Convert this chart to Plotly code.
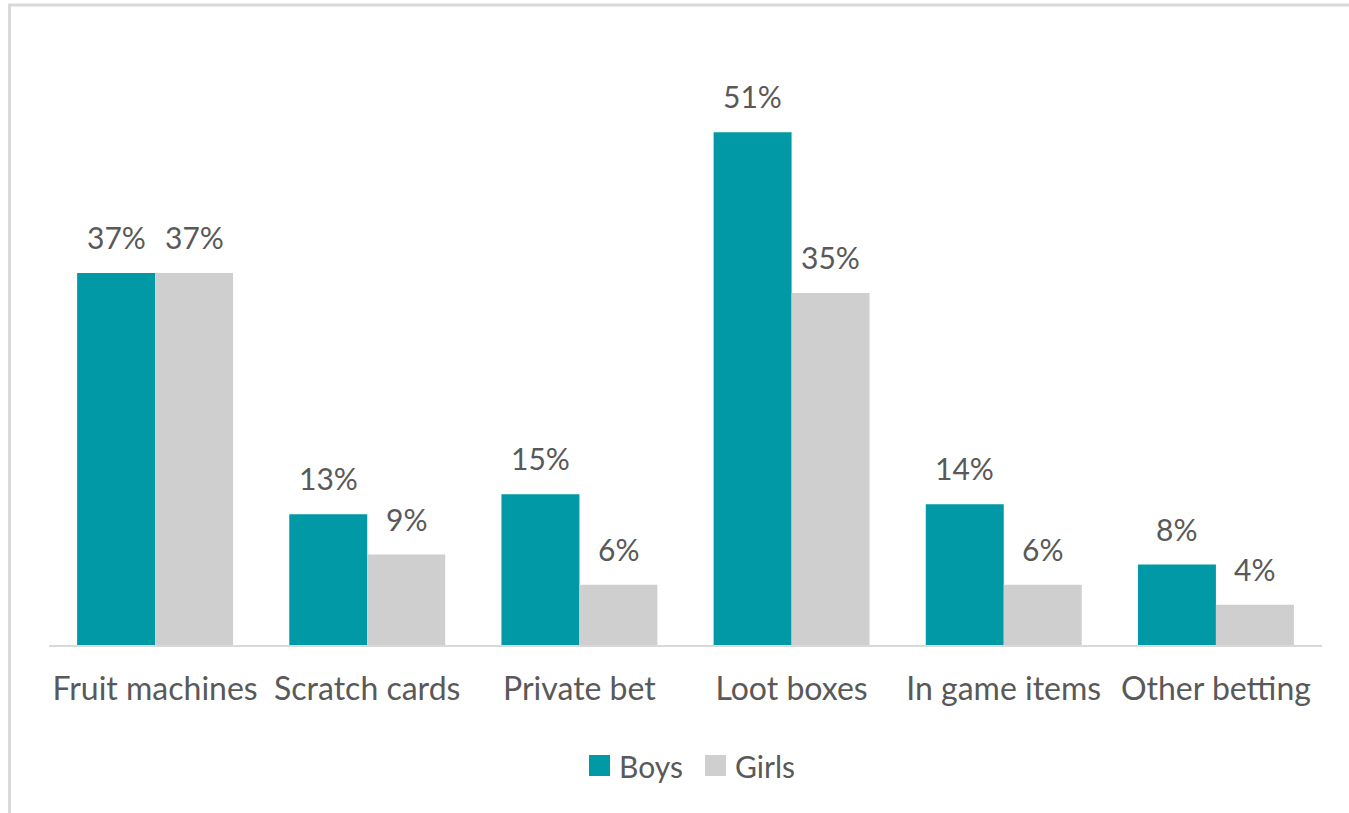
import plotly.graph_objects as go

categories = ["Fruit machines", "Scratch cards", "Private bet", "Loot boxes", "In game items", "Other betting"]
boys = [37, 13, 15, 51, 14, 8]
girls = [37, 9, 6, 35, 6, 4]
series_names = ["Boys", "Girls"]

BOYS_COLOR = "#0099A5"
GIRLS_COLOR = "#D0CFD0"
TEXT_COLOR = "#595959"
FONT = "Lato, Carlito, Calibri, sans-serif"
FS = 30

# plot area in pixels (used to place the hand-drawn legend)
L, R, T, B = 49, 27, 85, 168
W, H = 1349, 813
PW, PH = W - L - R, H - T - B


def px_x(px):
    return (px - L) / PW


def px_y(py):
    return (H - B - py) / PH


fig = go.Figure()
fig.add_trace(go.Bar(name="Boys", x=categories, y=boys, marker_color=BOYS_COLOR,
                     marker_line_width=0, showlegend=False))
fig.add_trace(go.Bar(name="Girls", x=categories, y=girls, marker_color=GIRLS_COLOR,
                     marker_line_width=0, showlegend=False))

# value labels above each bar
annotations = []
for series, shift in ((boys, -39), (girls, 39)):
    for cat, v in zip(categories, series):
        annotations.append(dict(
            x=cat, y=v, xref="x", yref="y", text=f"{v}%", showarrow=False,
            xshift=shift, yshift=16, yanchor="bottom",
            font=dict(family=FONT, size=FS, color=TEXT_COLOR)))

# legend: square swatches with labels, centred under the plot
shapes = [dict(type="rect", xref="paper", yref="paper",
               x0=-0.031, x1=1.2, y0=-1, y1=1.143,
               line=dict(color="#D9D9D9", width=3), layer="below")]
legend_items = [(series_names[0], BOYS_COLOR, 589, 617), (series_names[1], GIRLS_COLOR, 705, 733)]
for name, color, sx, tx in legend_items:
    shapes.append(dict(type="rect", xref="paper", yref="paper",
                       x0=px_x(sx), x1=px_x(sx + 21), y0=px_y(776), y1=px_y(755),
                       fillcolor=color, line=dict(width=0)))
    annotations.append(dict(x=px_x(tx), y=px_y(765.5), xref="paper", yref="paper",
                            xanchor="left", yanchor="middle", text=name, showarrow=False,
                            font=dict(family=FONT, size=FS, color=TEXT_COLOR)))

fig.update_layout(
    width=W, height=H,
    margin=dict(l=L, r=R, t=T, b=B),
    paper_bgcolor="white", plot_bgcolor="white",
    barmode="group", bargap=0.265, bargroupgap=0,
    font=dict(family=FONT, size=FS, color=TEXT_COLOR),
    annotations=annotations,
    shapes=shapes,
    showlegend=False,
)
fig.update_xaxes(showline=True, linecolor="#D9D9D9", linewidth=2, ticks="",
                 ticklabelstandoff=15,
                 tickfont=dict(family=FONT, size=32, color=TEXT_COLOR),
                 showgrid=False, zeroline=False)
fig.update_yaxes(range=[0, 55.7], visible=False, showgrid=False, zeroline=False)

fig.write_html("out.html")
